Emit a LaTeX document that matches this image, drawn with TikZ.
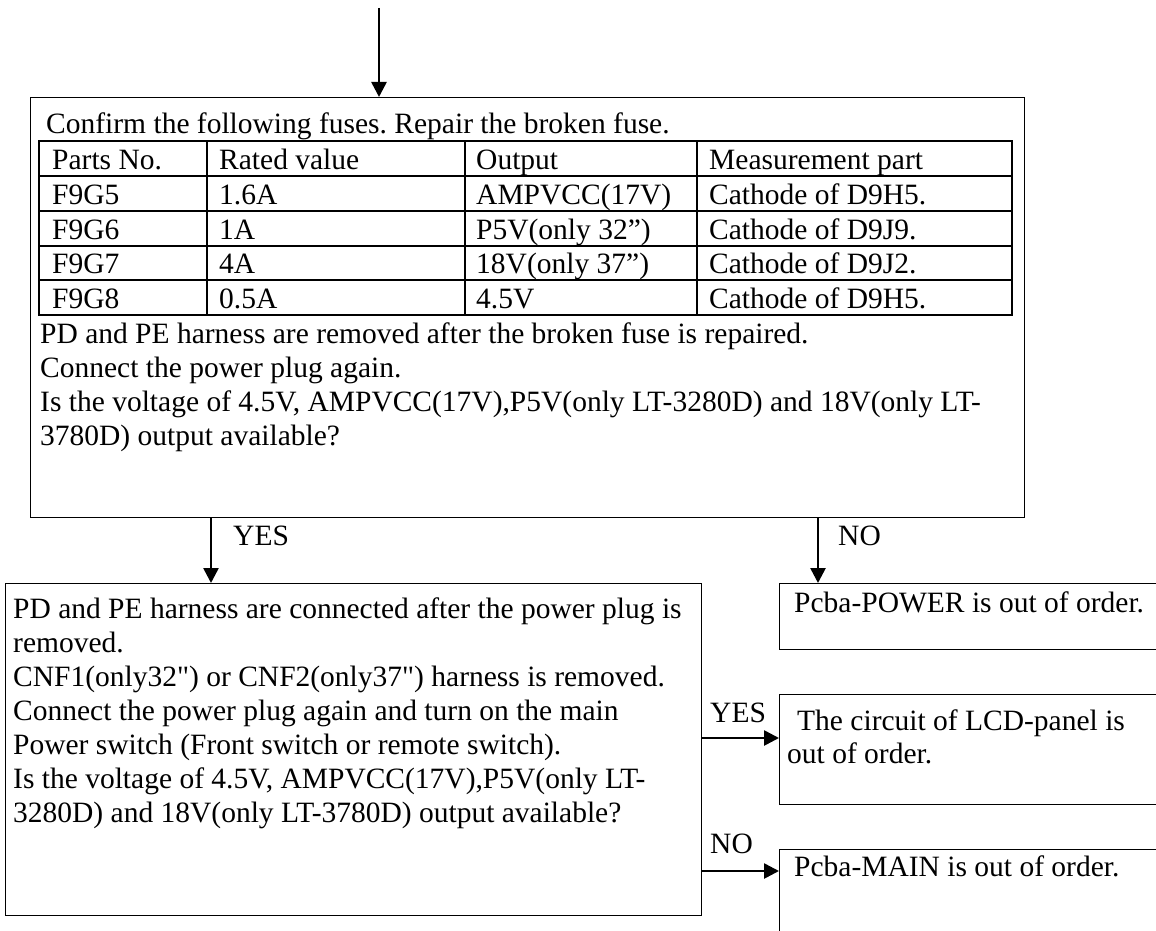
\documentclass[tikz,border=0pt]{standalone}
\usepackage{fontspec}
\newfontfamily\lib{Liberation Serif}
\usetikzlibrary{arrows.meta}
\frenchspacing
\tikzset{
  box/.style={draw, line width=1.4pt, anchor=north west, inner sep=0pt},
  arr/.style={line width=2.6pt, -{Triangle[width=15pt,length=15pt]}},
  tl/.style={line width=1.6pt},
  txt/.style={anchor=base west, inner sep=0pt, font=\lib\fontsize{29.5}{35}\selectfont\frenchspacing},
}
\begin{document}
\begin{tikzpicture}[x=1pt,y=-1pt]
\useasboundingbox (0,0) rectangle (1156,931);
\clip (0,0) rectangle (1156,931);
% boxes
\node[box, minimum width=994pt, minimum height=420pt] (b1) at (30,97) {};
\node[box, minimum width=696pt, minimum height=332pt] (b2) at (5,583) {};
\node[box, minimum width=400pt, minimum height=66pt] (pw) at (779,583) {};
\node[box, minimum width=400pt, minimum height=110pt] (lcd) at (779,694) {};
\node[box, minimum width=400pt, minimum height=120pt] (mn) at (779,849) {};
% table
\draw[tl] (39,141) rectangle (1012,315);
\foreach \y in {176,211,246,280} \draw[tl] (39,\y) -- (1012,\y);
\foreach \x in {207,465,697} \draw[tl] (\x,141) -- (\x,315);
% box1 text
\node[txt] (t0) at (46,134) {Confirm the following fuses. Repair the broken fuse.};
\node[txt] at (52,169) {Parts No.};
\node[txt] at (219,169) {Rated value};
\node[txt] at (476,169) {Output};
\node[txt] at (709,169) {Measurement part};
\node[txt] at (52,204) {F9G5};
\node[txt] at (219,204) {1.6A};
\node[txt] at (476,204) {AMPVCC(17V)};
\node[txt] at (709,204) {Cathode of D9H5.};
\node[txt] at (52,239) {F9G6};
\node[txt] at (219,239) {1A};
\node[txt] at (476,239) {P5V(only 32”)};
\node[txt] at (709,239) {Cathode of D9J9.};
\node[txt] at (52,273) {F9G7};
\node[txt] at (219,273) {4A};
\node[txt] at (476,273) {18V(only 37”)};
\node[txt] at (709,273) {Cathode of D9J2.};
\node[txt] at (52,308) {F9G8};
\node[txt] at (219,308) {0.5A};
\node[txt] at (476,308) {4.5V};
\node[txt] at (709,308) {Cathode of D9H5.};
\node[txt] at (40,343) {PD and PE harness are removed after the broken fuse is repaired.};
\node[txt] at (40,377) {Connect the power plug again.};
\node[txt] at (40,411) {Is the voltage of 4.5V, AMPVCC(17V),P5V(only LT-3280D) and 18V(only LT-};
\node[txt] at (40,445) {3780D) output available?};
% box2 text
\node[txt] at (13,618) {PD and PE harness are connected after the power plug is};
\node[txt] at (13,652) {removed.};
\node[txt] at (13,686) {CNF1(only32") or CNF2(only37") harness is removed.};
\node[txt] at (13,720) {Connect the power plug again and turn on the main};
\node[txt] at (13,754) {Power switch (Front switch or remote switch).};
\node[txt] at (13,788) {Is the voltage of 4.5V, AMPVCC(17V),P5V(only LT-};
\node[txt] at (13,822) {3280D) and 18V(only LT-3780D) output available?};
% right boxes text
\node[txt] at (794,612) {Pcba-POWER is out of order.};
\node[txt] at (797,730) {The circuit of LCD-panel is};
\node[txt] at (787,763) {out of order.};
\node[txt] at (794,876) {Pcba-MAIN is out of order.};
% labels
\node[txt] (ly1) at (233,545) {YES};
\node[txt] (ln1) at (838,545) {NO};
\node[txt] (ly2) at (710,722) {YES};
\node[txt] (ln2) at (710,853) {NO};
% connectors
\coordinate (start) at (379,8);
\draw[arr] (start) -- (start |- b1.north);
\coordinate (yx) at (211,0);
\draw[arr] (yx |- b1.south) -- (yx |- b2.north);
\coordinate (nx) at (818,0);
\draw[arr] (nx |- b1.south) -- (nx |- pw.north);
\coordinate (ry) at (0,738);
\draw[arr] (ry -| b2.east) -- (ry -| lcd.west);
\coordinate (rn) at (0,871);
\draw[arr] (rn -| b2.east) -- (rn -| mn.west);
\end{tikzpicture}
\end{document}
